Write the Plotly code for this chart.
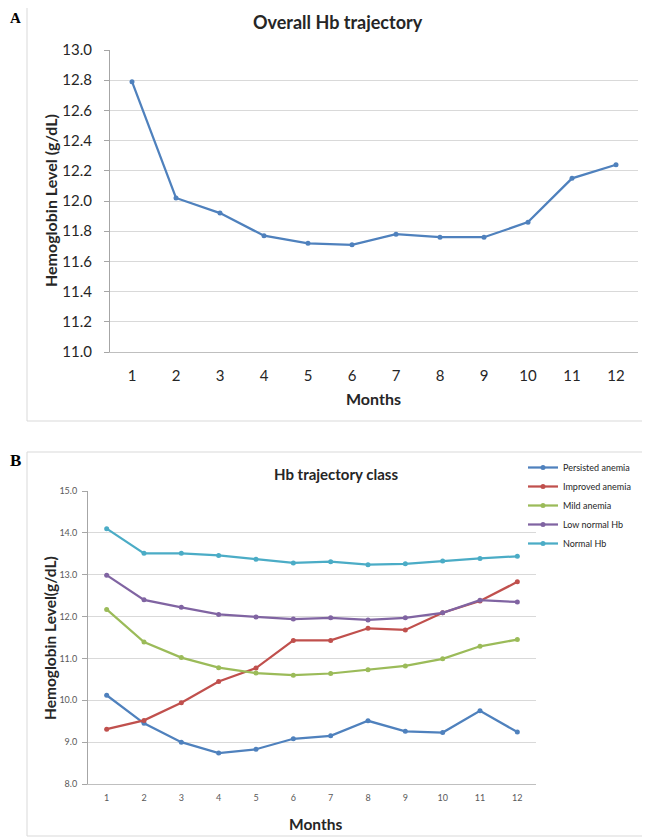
import plotly.graph_objects as go

months = list(range(1, 13))
month_labels = [str(m) for m in months]

overall_hb = [12.79, 12.02, 11.92, 11.77, 11.72, 11.71, 11.78, 11.76, 11.76, 11.86, 12.15, 12.24]

class_names = ["Persisted anemia", "Improved anemia", "Mild anemia", "Low normal Hb", "Normal Hb"]
persisted_anemia = [10.12, 9.45, 9.00, 8.74, 8.83, 9.08, 9.15, 9.51, 9.26, 9.23, 9.75, 9.24]
improved_anemia = [9.31, 9.52, 9.94, 10.45, 10.77, 11.43, 11.43, 11.72, 11.68, 12.09, 12.37, 12.83]
mild_anemia = [12.17, 11.39, 11.02, 10.78, 10.65, 10.60, 10.64, 10.73, 10.82, 10.99, 11.29, 11.45]
low_normal_hb = [12.99, 12.40, 12.22, 12.05, 11.99, 11.94, 11.97, 11.92, 11.97, 12.09, 12.39, 12.35]
normal_hb = [14.10, 13.51, 13.51, 13.46, 13.37, 13.28, 13.31, 13.24, 13.26, 13.33, 13.39, 13.44]
class_values = [persisted_anemia, improved_anemia, mild_anemia, low_normal_hb, normal_hb]
class_colors = ["#4F81BD", "#C0504D", "#9BBB59", "#8064A2", "#4BACC6"]

top_yticks = [11.0, 11.2, 11.4, 11.6, 11.8, 12.0, 12.2, 12.4, 12.6, 12.8, 13.0]
bot_yticks = [8.0, 9.0, 10.0, 11.0, 12.0, 13.0, 14.0, 15.0]

# The page body has an 8px default margin, so the figure is sized to fit the window.
OFF = 8
W, H = 650 - OFF, 839 - OFF
def px(x):
    return (x - OFF) / W
def py(y):
    return 1 - (y - OFF) / H

fig = go.Figure()

fig.add_trace(go.Scatter(
    x=months, y=overall_hb, mode="lines+markers",
    line=dict(color="#4F81BD", width=2.25), marker=dict(size=5, color="#4F81BD"),
    showlegend=False, xaxis="x", yaxis="y"))

for name, vals, col in zip(class_names, class_values, class_colors):
    fig.add_trace(go.Scatter(
        x=months, y=vals, mode="lines+markers", name=name,
        line=dict(color=col, width=2.25), marker=dict(size=5, color=col),
        xaxis="x2", yaxis="y2"))

font_main = "Lato, Calibri, Carlito, sans-serif"
frame_col = "#D9D9D9"

fig.update_layout(
    width=W, height=H,
    margin=dict(l=0, r=0, t=0, b=0, autoexpand=False),
    paper_bgcolor="white", plot_bgcolor="white",
    font=dict(family=font_main, color="#404040"),
    xaxis=dict(domain=[px(110), px(638)], range=[0.5, 12.5], tickvals=months, ticktext=month_labels,
               showgrid=False, showline=True, linecolor="#BFBFBF", linewidth=1, ticks="",
               ticklabelstandoff=10, automargin=False,
               tickfont=dict(size=15, color="#262626"), zeroline=False, anchor="y"),
    yaxis=dict(domain=[py(352), py(50)], range=[11.0, 13.0], tickvals=top_yticks,
               ticktext=[f"{v:.1f}" for v in top_yticks],
               showgrid=True, gridcolor="#D9D9D9", gridwidth=1, automargin=False,
               showline=True, linecolor="#A6A6A6", ticks="outside", ticklen=5, tickcolor="#A6A6A6",
               ticklabelstandoff=9,
               tickfont=dict(size=15, color="#262626"), zeroline=False, anchor="x"),
    xaxis2=dict(domain=[px(88), px(536)], range=[0.5, 12.5], tickvals=months, ticktext=month_labels,
                showgrid=False, showline=True, linecolor="#BFBFBF", linewidth=1, ticks="",
                ticklabelstandoff=5, automargin=False,
                tickfont=dict(size=9, color="#595959"), zeroline=False, anchor="y2"),
    yaxis2=dict(domain=[py(784), py(491)], range=[8.0, 15.0], tickvals=bot_yticks,
                ticktext=[f"{v:.1f}" for v in bot_yticks],
                showgrid=True, gridcolor="#D9D9D9", gridwidth=1, automargin=False,
                showline=True, linecolor="#A6A6A6", ticks="outside", ticklen=5, tickcolor="#A6A6A6",
                ticklabelstandoff=3,
                tickfont=dict(size=9, color="#595959"), zeroline=False, anchor="x2"),
    legend=dict(x=px(523), y=py(453), xanchor="left", yanchor="top",
                font=dict(size=9, color="#262626"), bgcolor="rgba(0,0,0,0)",
                itemwidth=30, tracegroupgap=0),
    shapes=[
        # panel A frame (left, right, bottom)
        dict(type="line", xref="paper", yref="paper", x0=px(27), x1=px(27), y0=py(421), y1=1,
             line=dict(color=frame_col, width=1), layer="below"),
        dict(type="line", xref="paper", yref="paper", x0=px(27), x1=px(649), y0=py(421), y1=py(421),
             line=dict(color=frame_col, width=1), layer="below"),
        dict(type="line", xref="paper", yref="paper", x0=px(649), x1=px(649), y0=py(421), y1=1,
             line=dict(color=frame_col, width=1), layer="below"),
        # panel B frame
        dict(type="rect", xref="paper", yref="paper", x0=px(27), x1=px(649), y0=py(836), y1=py(452),
             line=dict(color=frame_col, width=1), layer="below"),
    ],
    annotations=[
        dict(text="<b>A</b>", x=px(8), y=py(8), xref="paper", yref="paper", xanchor="left",
             yanchor="top", showarrow=False,
             font=dict(family="Liberation Serif, Times New Roman, serif", size=15, color="black")),
        dict(text="<b>B</b>", x=px(8), y=py(460), xref="paper", yref="paper", xanchor="left",
             yanchor="middle", showarrow=False,
             font=dict(family="Liberation Serif, Times New Roman, serif", size=17, color="black")),
        dict(text="<b>Overall Hb trajectory</b>", x=px(338), y=py(22), xref="paper", yref="paper",
             xanchor="center", yanchor="middle", showarrow=False,
             font=dict(size=18, color="#262626")),
        dict(text="<b>Hemoglobin Level (g/dL)</b>", x=px(51), y=py(200), xref="paper", yref="paper",
             xanchor="center", yanchor="middle", showarrow=False, textangle=-90,
             font=dict(size=16, color="#262626")),
        dict(text="<b>Months</b>", x=px(374), y=py(398), xref="paper", yref="paper",
             xanchor="center", yanchor="middle", showarrow=False,
             font=dict(size=16, color="#262626")),
        dict(text="<b>Hb trajectory class</b>", x=px(336), y=py(474), xref="paper", yref="paper",
             xanchor="center", yanchor="middle", showarrow=False,
             font=dict(size=15, color="#262626")),
        dict(text="<b>Hemoglobin Level(g/dL)</b>", x=px(50), y=py(638), xref="paper", yref="paper",
             xanchor="center", yanchor="middle", showarrow=False, textangle=-90,
             font=dict(size=15.5, color="#262626")),
        dict(text="<b>Months</b>", x=px(315), y=py(824), xref="paper", yref="paper",
             xanchor="center", yanchor="middle", showarrow=False,
             font=dict(size=15.5, color="#262626")),
    ],
)

fig.write_html("out.html")
